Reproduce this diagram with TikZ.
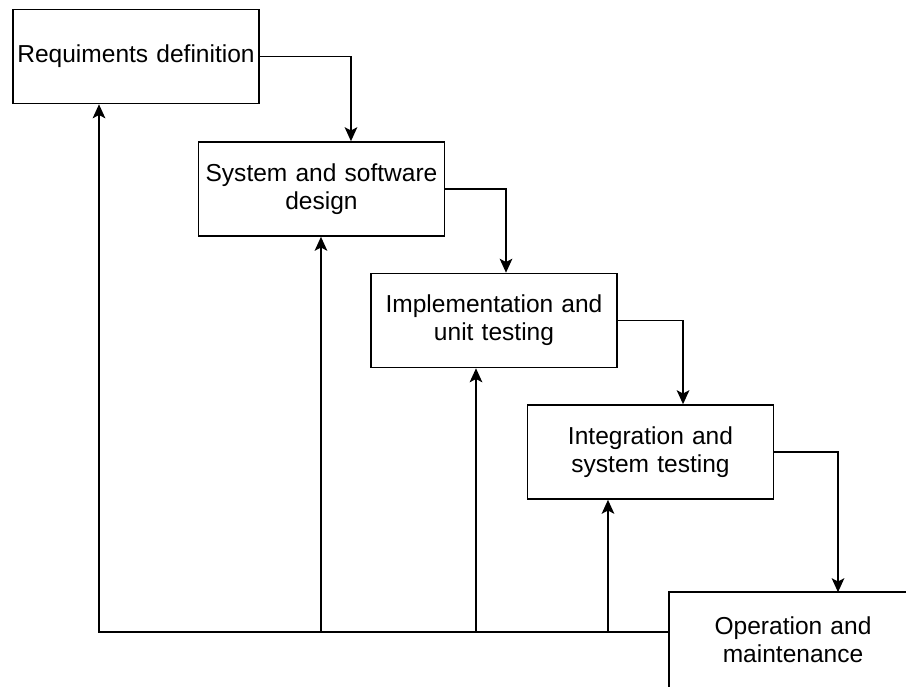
\documentclass[tikz,border=0pt]{standalone}
\usepackage{fontspec}
\setmainfont{Liberation Sans}
\usetikzlibrary{arrows.meta}
\begin{document}
\begin{tikzpicture}[x=0.75pt,y=-0.75pt,
  phase/.style={draw=black, line width=1.2pt, fill=white,
    minimum width=184.5pt, minimum height=70.5pt, inner sep=0pt,
    align=center, text width=180pt,
    font=\fontsize{18.4}{21}\selectfont},
  flow/.style={draw=black, line width=1.2pt,
    -{Stealth[length=10.5pt,width=9.5pt,inset=2.5pt]}},
  line/.style={draw=black, line width=1.2pt}]
\useasboundingbox (0,0) rectangle (906,686);
\clip (0,0) rectangle (906,686);

% phases of the waterfall
\node[phase] (b1) at (136,56.5) {Requiments definition};
\node[phase] (b2) at (321.5,189) {System and software\\design};
\node[phase] (b3) at (494,320.5) {Implementation and\\unit testing};
\node[phase] (b4) at (650.5,452) {Integration and\\system testing};
% the last box runs past the page edge: only its left and top sides show
\node[phase, draw=none, fill=none] (b5) at (793,640) {Operation and\\maintenance};
\draw[line] ([yshift=-20pt]b5.south west) -- (b5.north west) -- ([xshift=30pt]b5.north east);

% forward flow
\draw[flow] (b1.east) -| ([xshift=22.1pt]b2.north);
\draw[flow] (b2.east) -| ([xshift=9pt]b3.north);
\draw[flow] (b3.east) -| ([xshift=24.4pt]b4.north);
\draw[flow] (b4.east) -| ([xshift=33.75pt]b5.north);

% feedback to earlier phases
\coordinate (fb) at ([yshift=6pt]b5.west);
\coordinate (t1) at ([xshift=-27.75pt]b1.south);
\coordinate (t2) at ([xshift=-0.4pt]b2.south);
\coordinate (t3) at ([xshift=-13.5pt]b3.south);
\coordinate (t4) at ([xshift=-31.9pt]b4.south);
\draw[flow] (fb) -| (t1);
\draw[flow] (t2 |- fb) -- (t2);
\draw[flow] (t3 |- fb) -- (t3);
\draw[flow] (t4 |- fb) -- (t4);
\end{tikzpicture}
\end{document}
